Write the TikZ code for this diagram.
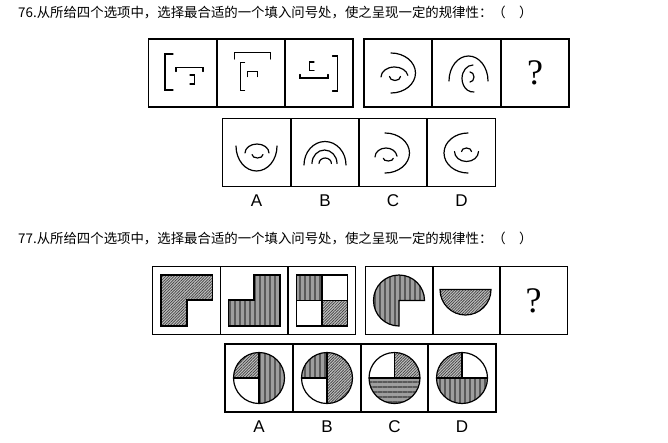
\documentclass[tikz,border=0pt]{standalone}
\usepackage{fontspec}
\newfontfamily\cjk{Noto Sans CJK SC}
\newfontfamily\labfont{Liberation Sans}
\newfontfamily\qmfont{Liberation Serif}
\usetikzlibrary{patterns.meta}
\tikzset{
  cell/.style={draw=black, line width=1.4pt, minimum width=68pt, minimum height=68pt, inner sep=0pt},
  stroke/.style={line width=1.2pt, line cap=round, line join=miter, black},
  outl/.style={draw=black, line width=1.2pt},
  hatch/.style={preaction={fill=black!25}, pattern={Lines[angle=45,distance=2pt,line width=0.7pt]}, pattern color=black!75},
  vstripe/.style={preaction={fill=black!38}, pattern={Lines[angle=90,distance=5pt,line width=2.4pt]}, pattern color=black!65},
  hstripe/.style={preaction={fill=black!38}, pattern={Lines[angle=0,distance=5pt,line width=2.4pt]}, pattern color=black!65},
  qmark/.style={font=\qmfont\fontsize{36}{36}\selectfont, inner sep=0pt},
  optlab/.style={font=\labfont\fontsize{17}{17}\selectfont, inner sep=0pt},
  qtext/.style={font=\cjk\fontsize{13.4}{13.4}\selectfont, anchor=west, inner sep=0pt},
}
% centre x, centre y, x radius, y radius, start angle, end angle (y axis points down)
\newcommand{\elarc}[6]{\draw[stroke] (#1,#2) ++(#5:#3 and #4) arc[start angle=#5, end angle=#6, x radius=#3, y radius=#4];}
\begin{document}
\begin{tikzpicture}[x=1pt,y=-1pt]
\useasboundingbox[fill=white] (0,0) rectangle (668,442);

% ---------------- Question 76 ----------------
\node[qtext] (t76) at (18,12) {76.从所给四个选项中，选择最合适的一个填入问号处，使之呈现一定的规律性：（　）};

\node[cell] (a1) at (182.5,73) {};
\node[cell] (a2) at (251,73) {};
\node[cell] (a3) at (319,73) {};
\node[cell] (a4) at (398,73) {};
\node[cell] (a5) at (466.5,73) {};
\node[cell] (a6) at (535,73) {};
\node[qmark] (q76) at (a6.center) {?};

% box 1
\draw[stroke] (173,54) -- (165,54) -- (165,90) -- (173,90);
\draw[stroke] (176,71.5) -- (176,67.5) -- (203,67.5) -- (203,71.5);
\draw[stroke] (190,75) -- (194.5,75) -- (194.5,84) -- (190,84);
% box 2
\draw[stroke] (234.5,59) -- (234.5,52.5) -- (270.5,52.5) -- (270.5,59);
\draw[stroke] (244.5,62.5) -- (240.5,62.5) -- (240.5,90.5) -- (244.5,90.5);
\draw[stroke] (247.5,76.5) -- (247.5,71.5) -- (257.5,71.5) -- (257.5,76.5);
% box 3
\draw[stroke] (314,62) -- (309.5,62) -- (309.5,70.5) -- (314,70.5);
\draw[stroke] (300,74.5) -- (300,78) -- (328,78) -- (328,74.5);
\draw[stroke] (332.5,56) -- (337.5,56) -- (337.5,91) -- (332.5,91);
% box 4
\elarc{391}{73}{24.5}{20}{-90}{90}
\elarc{394.5}{77}{13.5}{10}{180}{350}
\elarc{395}{76.5}{5.5}{4}{0}{180}
% box 5
\elarc{468.5}{81}{19.5}{25}{180}{360}
\elarc{473}{78.5}{11}{13.5}{270}{85}
\elarc{470}{77}{4}{5}{-90}{90}

% options 76
\node[cell] (b1) at (256.5,152.5) {};
\node[cell] (b2) at (325,152.5) {};
\node[cell] (b3) at (393,152.5) {};
\node[cell] (b4) at (461.5,152.5) {};
\node[optlab] (lb1) at (256.5,201) {A};
\node[optlab] (lb2) at (325,201) {B};
\node[optlab] (lb3) at (393,201) {C};
\node[optlab] (lb4) at (461.5,201) {D};
% A
\elarc{256.5}{146}{20.5}{25}{180}{0}
\elarc{257}{153}{12}{9}{180}{360}
\elarc{257.5}{154.5}{5.5}{3.5}{0}{180}
% B
\elarc{325}{165}{21}{23.5}{180}{360}
\elarc{324.5}{163.5}{12.5}{13.5}{180}{360}
\elarc{325.2}{163.5}{6.2}{5.5}{180}{360}
% C
\elarc{385}{153}{24.5}{20}{-90}{90}
\elarc{386}{157}{11}{9}{180}{355}
\elarc{388.3}{158.3}{5}{2.7}{0}{180}
% D
\elarc{468}{153}{24}{20}{270}{90}
\elarc{466.5}{151.5}{12}{10}{0}{180}
\elarc{466.5}{151.5}{5}{3.5}{180}{360}

% ---------------- Question 77 ----------------
\node[qtext] (t77) at (18,238) {77.从所给四个选项中，选择最合适的一个填入问号处，使之呈现一定的规律性：（　）};

\node[cell] (c1) at (186.75,300.5) {};
\node[cell] (c2) at (254.25,300.5) {};
\node[cell] (c3) at (321.5,300.5) {};
\node[cell] (c4) at (399.5,300.5) {};
\node[cell] (c5) at (466.5,300.5) {};
\node[cell] (c6) at (533.5,300.5) {};
\node[qmark] (q77) at (c6.center) {?};

% box 1
\path[hatch, draw=black, line width=1.2pt] (161,275) -- (212.5,275) -- (212.5,300) -- (187,300) -- (187,326) -- (161,326) -- cycle;
% box 2
\path[vstripe, draw=black, line width=1.2pt] (254,275) -- (280,275) -- (280,326) -- (228.5,326) -- (228.5,300) -- (254,300) -- cycle;
% box 3
\path[vstripe] (296.5,275) rectangle (322,300.5);
\path[hatch] (322,300.5) rectangle (347.5,326);
\draw[outl] (296.5,275) rectangle (347.5,326);
\draw[outl] (322,275) -- (322,326);
\draw[outl] (296.5,300.5) -- (347.5,300.5);
% box 4
\coordinate (k4) at (399,300.5);
\path[vstripe, draw=black, line width=1.2pt] (k4) -- ++(0,25.5) arc[start angle=90, end angle=360, radius=25.5] -- cycle;
% box 5
\coordinate (k5) at (465.5,289.5);
\path[hatch, draw=black, line width=1.2pt] (k5) ++(25.5,0) arc[start angle=0, end angle=180, radius=25.5] -- cycle;

% options 77
\node[cell] (d1) at (259,378) {};
\node[cell] (d2) at (327,378) {};
\node[cell] (d3) at (394.5,378) {};
\node[cell] (d4) at (462,378) {};
\node[optlab] (ld1) at (259,427) {A};
\node[optlab] (ld2) at (327,427) {B};
\node[optlab] (ld3) at (394.5,427) {C};
\node[optlab] (ld4) at (462,427) {D};

% A
\coordinate (ka) at (259,378);
\path[hatch] (ka) -- ++(-25.5,0) arc[start angle=180, end angle=270, radius=25.5] -- cycle;
\path[vstripe] (ka) -- ++(0,-25.5) arc[start angle=270, end angle=450, radius=25.5] -- cycle;
\draw[outl] (ka) circle[radius=25.5];
\draw[outl] (ka) ++(0,-25.5) -- ++(0,51);
\draw[outl] (ka) -- ++(-25.5,0);
% B
\coordinate (kb) at (327,378);
\path[vstripe] (kb) -- ++(-25.5,0) arc[start angle=180, end angle=270, radius=25.5] -- cycle;
\path[hatch] (kb) -- ++(0,-25.5) arc[start angle=270, end angle=450, radius=25.5] -- cycle;
\draw[outl] (kb) circle[radius=25.5];
\draw[outl] (kb) ++(0,-25.5) -- ++(0,51);
\draw[outl] (kb) -- ++(-25.5,0);
% C
\coordinate (kc) at (394.5,378);
\path[hatch] (kc) -- ++(0,-25.5) arc[start angle=270, end angle=360, radius=25.5] -- cycle;
\path[hstripe] (kc) ++(25.5,0) arc[start angle=0, end angle=180, radius=25.5] -- cycle;
\draw[outl] (kc) circle[radius=25.5];
\draw[outl] (kc) ++(-25.5,0) -- ++(51,0);
\draw[outl] (kc) -- ++(0,-25.5);
% D
\coordinate (kd) at (462,378);
\path[hatch] (kd) -- ++(-25.5,0) arc[start angle=180, end angle=270, radius=25.5] -- cycle;
\path[vstripe] (kd) ++(25.5,0) arc[start angle=0, end angle=180, radius=25.5] -- cycle;
\draw[outl] (kd) circle[radius=25.5];
\draw[outl] (kd) ++(-25.5,0) -- ++(51,0);
\draw[outl] (kd) -- ++(0,-25.5);
\end{tikzpicture}
\end{document}
